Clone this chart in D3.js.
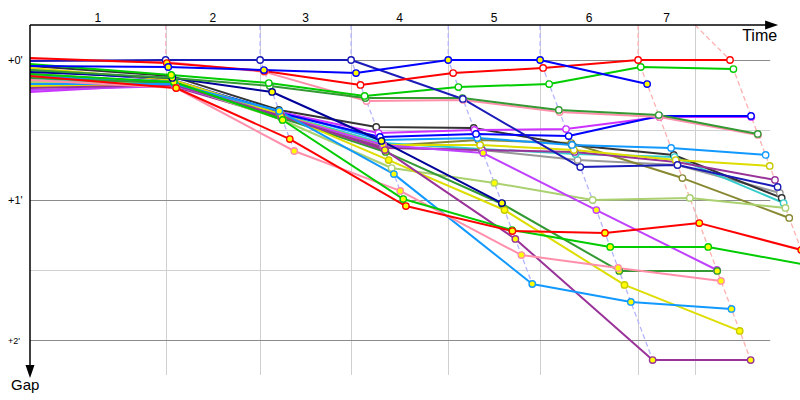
<!DOCTYPE html>
<html>
<head>
<meta charset="utf-8">
<script src="https://cdn.jsdelivr.net/npm/d3@7/dist/d3.min.js"></script>
<style>
  body { margin: 0; background: #fff; }
  svg { display: block; font-family: "Liberation Sans", Arial, sans-serif; }
  .grid-major { stroke: #8c8c8c; stroke-width: 1; }
  .grid-minor { stroke: #d0d0d0; stroke-width: 1; }
  .grid-lap { stroke: #d0d0d0; stroke-width: 1; }
  .lap-line { fill: none; stroke-width: 1.3; stroke-dasharray: 5,3; }
  .driver { fill: none; stroke-width: 2; stroke-linejoin: round; }
  .axis-line { stroke: #000; stroke-width: 1.5; }
</style>
</head>
<body>
<div id="chart"></div>
<script>
var width = 800, height = 400;

// lap labels and leader's cumulative time (s) at end of each lap
var lapLabels = ["1", "2", "3", "4", "5", "6", "7"];
var leaderTimes = [155, 263, 367, 478, 583, 695, 800];
var lapGridTimes = [155, 263, 367, 478, 583, 695, 760];
var lapLineColors = ["#ffb8c8", "#b4b4ff", "#b4b4ff", "#b4b4ff", "#b4b4ff", "#ffb0b0", "#ffb0b0"];

var gapTicks = [0, 60, 120];
var gapTickLabels = ["+0'", "+1'", "+2'"];
var gapMinorTicks = [30, 90];

// gap to leader (s): start, then lap 1..n
var redA    = [-0.9, 1.3, 4.7, 10.7, 5.6, 3.4, 0, 0];
var blueA   = [2.6, 3.0, 4.3, 5.6, 0, 0, 10.3];
var navyB   = [0.4, 0, 0, 0, 16.7, 45.9, 45.0, 54.4];
var greenA  = [1.7, 6.4, 9.9, 15.4, 11.6, 10.3, 3.0, 3.9];
var dgreenA = [4.3, 7.7, 11.1, 16.3, 16.3, 21.4, 23.6, 31.7];
var pinkA   = [0, 0.9, 5.1, 17.6, 17.1, 22.3, 24.4, 32.1];
var navyC   = [5.1, 7.7, 13.7, 34.7, 61.3];
var redB    = [6.9, 12.0, 33.9, 62.6, 73.3, 74.1, 69.9, 81.4];
var pinkB   = [8.6, 12.0, 39.0, 56.1, 83.6, 89.1, 94.7];
var greenB  = [6.0, 9.4, 25.7, 59.6, 72.9, 80.1, 80.1, 87.9];
var lblueB  = [10.3, 10.3, 21.9, 48.9, 96.0, 103.7, 106.7];
var purpleB = [12.0, 10.7, 24.0, 38.6, 76.7, 128.6, 128.6];
var yellowB = [3.4, 8.6, 23.1, 42.9, 64.3, 96.4, 116.1];
var dgreenB = [7.7, 9.9, 24.9, 39.4, 61.7, 90.4, 90.4];
var violet  = [12.9, 11.1, 24.0, 36.4, 39.9, 64.3, 90.0];
var lgreen  = [9.4, 10.3, 25.7, 46.3, 52.7, 60.0, 59.1, 63.4];
var black   = [2.6, 6.9, 21.4, 28.7, 29.1, 36.4, 40.7, 59.1];
var magenta = [13.7, 10.3, 22.3, 31.3, 30.0, 29.6, 24.4, 24.4];
var blueC   = [4.3, 8.6, 22.7, 33.0, 31.7, 32.6, 24.0, 24.0];
var lblueA  = [6.9, 9.4, 21.9, 34.3, 33.4, 36.4, 37.7, 40.7];
var yellowA = [11.1, 11.1, 23.6, 36.4, 36.4, 38.6, 42.9, 45.4];
var purpleA = [10.3, 11.6, 24.9, 37.7, 38.6, 39.4, 43.7, 51.4];
var grey    = [8.6, 10.7, 24.0, 37.3, 38.6, 42.9, 45.0, 57.0];
var cyan    = [7.7, 10.3, 23.1, 35.6, 38.1, 40.3, 41.6, 61.3];
var olive   = [6.0, 9.9, 24.4, 36.9, 34.3, 35.6, 50.6, 67.7];

// marker fill per lap: y = yellow, w = white
var series = [
  {color: "#999999", fill: "wwwwwww", gaps: grey},
  {color: "#888833", fill: "wwwwwww", gaps: olive},
  {color: "#333333", fill: "wwwwwww", gaps: black},
  {color: "#33cccc", fill: "wwwwwww", gaps: cyan},
  {color: "#993399", fill: "wwwwwww", gaps: purpleA},
  {color: "#dddd00", fill: "wwywwww", gaps: yellowA},
  {color: "#1199ff", fill: "wwwwwww", gaps: lblueA},
  {color: "#aad070", fill: "wwwywww", gaps: lgreen},
  {color: "#cc33ff", fill: "wwwwwww", gaps: magenta},
  {color: "#0000ff", fill: "wwwwwww", gaps: blueC},
  {color: "#c040ff", fill: "yyyyyy", gaps: violet},
  {color: "#339933", fill: "yyyyyy", gaps: dgreenB},
  {color: "#dddd00", fill: "yyyyyy", gaps: yellowB},
  {color: "#993399", fill: "yyyyyy", gaps: purpleB},
  {color: "#1199ff", fill: "yyyyyy", gaps: lblueB},
  {color: "#ff8fab", fill: "yyyyyy", gaps: pinkB},
  {color: "#00cc00", fill: "yyyyyyy", gaps: greenB},
  {color: "#ff0000", fill: "yyyyyyy", gaps: redB},
  {color: "#000099", fill: "yyyy", gaps: navyC},
  {color: "#ff8fab", fill: "wwwwwww", gaps: pinkA},
  {color: "#339933", fill: "wwwwwww", gaps: dgreenA},
  {color: "#00cc00", fill: "ywwwwww", gaps: greenA},
  {color: "#1a1ab8", fill: "wwwwwww", gaps: navyB},
  {color: "#ff0000", fill: "yywwwww", gaps: redA},
  {color: "#0000ff", fill: "yyyyyy", gaps: blueA}
];

var x = d3.scaleLinear().domain([0, 800]).range([30, 730]);
var y = d3.scaleLinear().domain([0, 120]).range([60, 340]);

var topGap = -15, bottomGap = 135, axisEndTime = 855, gridEndTime = 846;

var svg = d3.select("#chart")
    .append("svg")
    .attr("width", width)
    .attr("height", height);

// points of a driver: start at t=0, then leader time + own gap
var markers = [];
series.forEach(function(s) {
  s.points = s.gaps.map(function(g, i) {
    return {t: i === 0 ? 0 : leaderTimes[i - 1] + g, gap: g, lap: i, color: s.color,
            yellow: i > 0 && s.fill[i - 1] === "y"};
  });
  s.points.slice(1).forEach(function(p) { markers.push(p); });
});
// white markers first, yellow ones on top
markers.sort(function(a, b) { return (a.yellow ? 1 : 0) - (b.yellow ? 1 : 0); });

// gridlines
svg.append("g").selectAll("line")
    .data(gapMinorTicks)
  .enter().append("line")
    .attr("class", "grid-minor")
    .attr("x1", x(0)).attr("x2", x(gridEndTime))
    .attr("y1", function(d) { return Math.round(y(d)) + 0.5; })
    .attr("y2", function(d) { return Math.round(y(d)) + 0.5; });

svg.append("g").selectAll("line")
    .data(lapGridTimes)
  .enter().append("line")
    .attr("class", "grid-lap")
    .attr("x1", function(d) { return Math.round(x(d)) + 0.5; })
    .attr("x2", function(d) { return Math.round(x(d)) + 0.5; })
    .attr("y1", y(topGap)).attr("y2", y(bottomGap));

svg.append("g").selectAll("line")
    .data(gapTicks)
  .enter().append("line")
    .attr("class", "grid-major")
    .attr("x1", x(0)).attr("x2", x(gridEndTime))
    .attr("y1", function(d) { return Math.round(y(d)) + 0.5; })
    .attr("y2", function(d) { return Math.round(y(d)) + 0.5; });

var line = d3.line()
    .x(function(d) { return x(d.t); })
    .y(function(d) { return y(d.gap); });

// dashed lines joining everybody's lap k
lapLabels.forEach(function(lab, k) {
  var pts = [];
  series.forEach(function(s) { if (s.points[k + 1]) pts.push(s.points[k + 1]); });
  pts.sort(function(a, b) { return a.gap - b.gap; });
  pts.unshift({t: lapGridTimes[k], gap: topGap});
  svg.append("path")
      .datum(pts)
      .attr("class", "lap-line")
      .attr("stroke", lapLineColors[k])
      .attr("d", line);
});

// driver lines
svg.append("g").selectAll("path")
    .data(series)
  .enter().append("path")
    .attr("class", "driver")
    .attr("stroke", function(d) { return d.color; })
    .attr("d", function(d) { return line(d.points); });

// lap markers
svg.append("g").selectAll("circle")
    .data(markers)
  .enter().append("circle")
    .attr("cx", function(d) { return x(d.t); })
    .attr("cy", function(d) { return y(d.gap); })
    .attr("r", 3.2)
    .attr("fill", function(d) { return d.yellow ? "#ffff00" : "#ffffff"; })
    .attr("stroke", function(d) { return d.color === "#dddd00" ? "#c8c800" : d.color; })
    .attr("stroke-width", 1.4);

// axes
svg.append("line").attr("class", "axis-line")
    .attr("x1", x(0)).attr("x2", x(axisEndTime) - 8)
    .attr("y1", y(topGap)).attr("y2", y(topGap));
svg.append("path")
    .attr("d", "M" + x(axisEndTime) + "," + y(topGap) + "l-13,-4.5v9z")
    .attr("fill", "#000");
svg.append("line").attr("class", "axis-line")
    .attr("x1", x(0)).attr("x2", x(0))
    .attr("y1", y(topGap)).attr("y2", y(bottomGap) - 4);
svg.append("path")
    .attr("d", "M" + x(0) + "," + (y(bottomGap) + 3) + "l-4.5,-13h9z")
    .attr("fill", "#000");

svg.append("text")
    .attr("x", x(axisEndTime) - 1).attr("y", 41)
    .attr("text-anchor", "end")
    .attr("font-size", 16)
    .text("Time");
svg.append("text")
    .attr("x", 11).attr("y", 390)
    .attr("font-size", 15)
    .text("Gap");

// lap numbers centred over each lap
svg.append("g").selectAll("text")
    .data(lapLabels)
  .enter().append("text")
    .attr("x", function(d, i) { return x(((i === 0 ? 0 : lapGridTimes[i - 1]) + lapGridTimes[i]) / 2); })
    .attr("y", 22)
    .attr("text-anchor", "middle")
    .attr("font-size", 12)
    .text(function(d) { return d; });

svg.append("g").selectAll("text")
    .data(gapTicks)
  .enter().append("text")
    .attr("x", 8)
    .attr("y", function(d) { return y(d) + 4; })
    .attr("font-size", function(d, i) { return i === 2 ? 9 : 11; })
    .text(function(d, i) { return gapTickLabels[i]; });
</script>
</body>
</html>
